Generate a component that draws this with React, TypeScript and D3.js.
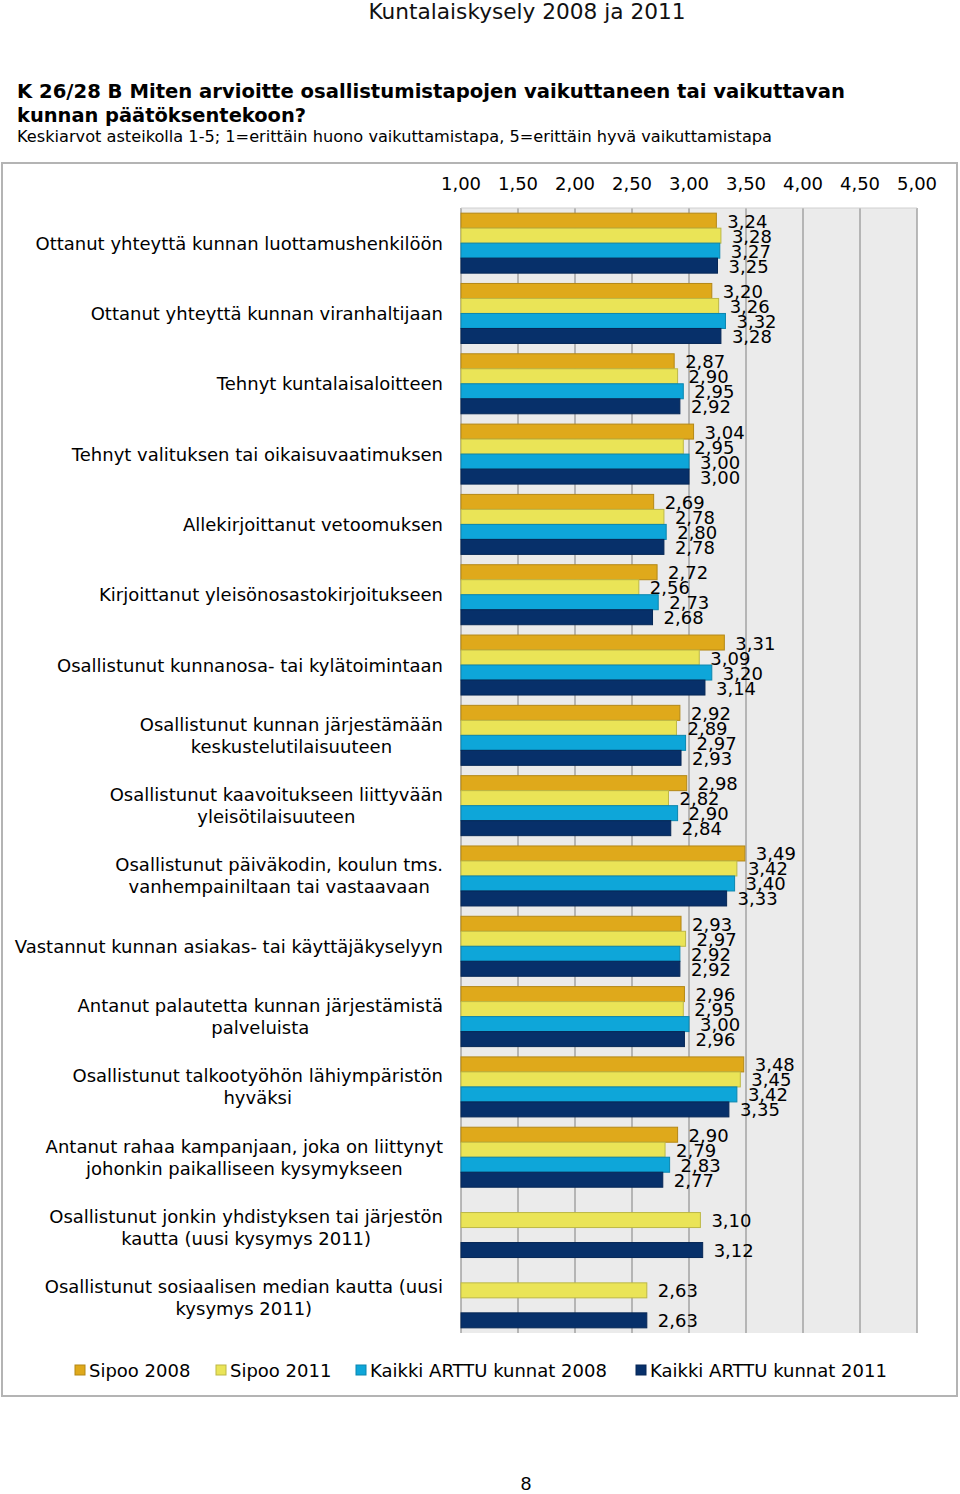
import React, { useEffect, useRef } from "react";
import * as d3 from "d3";

const categories: string[] = [
  "Ottanut yhteyttä kunnan luottamushenkilöön",
  "Ottanut yhteyttä kunnan viranhaltijaan",
  "Tehnyt kuntalaisaloitteen",
  "Tehnyt valituksen tai oikaisuvaatimuksen",
  "Allekirjoittanut vetoomuksen",
  "Kirjoittanut yleisönosastokirjoitukseen",
  "Osallistunut kunnanosa- tai kylätoimintaan",
  "Osallistunut kunnan järjestämään\nkeskustelutilaisuuteen",
  "Osallistunut kaavoitukseen liittyvään\nyleisötilaisuuteen",
  "Osallistunut päiväkodin, koulun tms.\nvanhempainiltaan tai vastaavaan",
  "Vastannut kunnan asiakas- tai käyttäjäkyselyyn",
  "Antanut palautetta kunnan järjestämistä\npalveluista",
  "Osallistunut talkootyöhön lähiympäristön\nhyväksi",
  "Antanut rahaa kampanjaan, joka on liittynyt\njohonkin paikalliseen kysymykseen",
  "Osallistunut jonkin yhdistyksen tai järjestön\nkautta (uusi kysymys 2011)",
  "Osallistunut sosiaalisen median kautta (uusi\nkysymys 2011)",
];

const seriesNames: string[] = [
  "Sipoo 2008",
  "Sipoo 2011",
  "Kaikki ARTTU kunnat 2008",
  "Kaikki ARTTU kunnat 2011",
];

const sipoo2008: (number | null)[] = [3.24, 3.2, 2.87, 3.04, 2.69, 2.72, 3.31, 2.92, 2.98, 3.49, 2.93, 2.96, 3.48, 2.9, null, null];
const sipoo2011: (number | null)[] = [3.28, 3.26, 2.9, 2.95, 2.78, 2.56, 3.09, 2.89, 2.82, 3.42, 2.97, 2.95, 3.45, 2.79, 3.1, 2.63];
const arttu2008: (number | null)[] = [3.27, 3.32, 2.95, 3.0, 2.8, 2.73, 3.2, 2.97, 2.9, 3.4, 2.92, 3.0, 3.42, 2.83, null, null];
const arttu2011: (number | null)[] = [3.25, 3.28, 2.92, 3.0, 2.78, 2.68, 3.14, 2.93, 2.84, 3.33, 2.92, 2.96, 3.35, 2.77, 3.12, 2.63];

const ticks: number[] = [1, 1.5, 2, 2.5, 3, 3.5, 4, 4.5, 5];
const colors: string[] = ["#DFA91B", "#EAE457", "#0EA6D9", "#07306A"];

const fmt = (v: number) => v.toFixed(2).replace(".", ",");

export default function App() {
  const ref = useRef<SVGSVGElement | null>(null);

  useEffect(() => {
    const svg = d3.select(ref.current);
    svg.selectAll("*").remove();
    const font = "DejaVu Sans, Verdana, sans-serif";
    const values = [sipoo2008, sipoo2011, arttu2008, arttu2011];

    // Page header
    svg.append("text").attr("x", 527).attr("y", 19).attr("text-anchor", "middle")
      .attr("font-family", font).attr("font-size", 21).attr("fill", "#111")
      .attr("textLength", 317).attr("lengthAdjust", "spacingAndGlyphs")
      .text("Kuntalaiskysely 2008 ja 2011");

    svg.append("text").attr("x", 17).attr("y", 98).attr("font-family", font)
      .attr("font-size", 20).attr("font-weight", "bold").attr("fill", "#000")
      .attr("textLength", 828).attr("lengthAdjust", "spacingAndGlyphs")
      .text("K 26/28 B Miten arvioitte osallistumistapojen vaikuttaneen tai vaikuttavan");
    svg.append("text").attr("x", 17).attr("y", 122).attr("font-family", font)
      .attr("font-size", 20).attr("font-weight", "bold").attr("fill", "#000")
      .attr("textLength", 289).attr("lengthAdjust", "spacingAndGlyphs")
      .text("kunnan päätöksentekoon?");
    svg.append("text").attr("x", 17).attr("y", 142).attr("font-family", font)
      .attr("font-size", 16).attr("fill", "#000")
      .attr("textLength", 755).attr("lengthAdjust", "spacingAndGlyphs")
      .text("Keskiarvot asteikolla 1-5; 1=erittäin huono vaikuttamistapa, 5=erittäin hyvä vaikuttamistapa");

    // Chart frame
    svg.append("rect").attr("x", 2).attr("y", 163).attr("width", 955).attr("height", 1233)
      .attr("fill", "#fff").attr("stroke", "#b4b4b4").attr("stroke-width", 2);

    const x = d3.scaleLinear().domain([1, 5]).range([461, 917]);
    const y = d3.scaleBand<number>().domain(d3.range(categories.length))
      .range([208, 1333]).paddingInner(0.1467).paddingOuter(0.0733);
    const ys = d3.scaleBand<number>().domain(d3.range(4)).range([0, y.bandwidth()]);

    // Plot area
    svg.append("rect").attr("x", x(1)).attr("y", 208).attr("width", x(5) - x(1)).attr("height", 1125)
      .attr("fill", "#EBEBEB");
    svg.append("g").selectAll("line").data(ticks).join("line")
      .attr("x1", (d) => x(d)).attr("x2", (d) => x(d)).attr("y1", 208).attr("y2", 1333)
      .attr("stroke", "#A3A3A3").attr("stroke-width", 1.5);
    svg.append("line").attr("x1", x(1)).attr("x2", x(5)).attr("y1", 208).attr("y2", 208)
      .attr("stroke", "#D0D0D0").attr("stroke-width", 1);

    // Tick labels
    svg.append("g").selectAll("text").data(ticks).join("text")
      .attr("x", (d) => x(d)).attr("y", 190).attr("text-anchor", "middle")
      .attr("font-family", font).attr("font-size", 18).attr("fill", "#000")
      .text((d) => fmt(d));

    // Bars
    values.forEach((arr, si) => {
      const g = svg.append("g");
      const data = arr.map((v, i) => ({ v, i })).filter((d) => d.v !== null) as { v: number; i: number }[];
      g.selectAll("rect").data(data).join("rect")
        .attr("x", x(1)).attr("y", (d) => (y(d.i) as number) + (ys(si) as number))
        .attr("width", (d) => x(d.v) - x(1)).attr("height", ys.bandwidth())
        .attr("fill", colors[si])
        .attr("stroke", d3.color(colors[si])!.darker(0.6).toString()).attr("stroke-width", 1);
    });
    values.forEach((arr, si) => {
      const g = svg.append("g");
      const data = arr.map((v, i) => ({ v, i })).filter((d) => d.v !== null) as { v: number; i: number }[];
      g.selectAll("text").data(data).join("text")
        .attr("x", (d) => x(d.v) + 11)
        .attr("y", (d) => (y(d.i) as number) + (ys(si) as number) + ys.bandwidth() / 2 + 7)
        .attr("font-family", font).attr("font-size", 18).attr("fill", "#000")
        .text((d) => fmt(d.v));
    });

    // Category labels
    categories.forEach((c, i) => {
      const lines = c.split("\n");
      const cy = (y(i) as number) + y.bandwidth() / 2;
      const lh = 22;
      const g = svg.append("g");
      const texts = lines.map((ln, li) =>
        g.append("text").attr("y", cy + (li - (lines.length - 1) / 2) * lh + 6.5)
          .attr("font-family", font).attr("font-size", 18).attr("fill", "#000")
          .attr("text-anchor", "middle").text(ln)
      );
      const widths = texts.map((t) => (t.node() as SVGTextElement).getComputedTextLength());
      const maxW = Math.max(...widths);
      const center = 443 - maxW / 2;
      texts.forEach((t) => t.attr("x", center));
    });

    // Legend
    const legendX = [75, 216, 356, 636];
    seriesNames.forEach((s, si) => {
      svg.append("rect").attr("x", legendX[si]).attr("y", 1365).attr("width", 10).attr("height", 10)
        .attr("fill", colors[si]).attr("stroke", d3.color(colors[si])!.darker(0.6).toString());
      svg.append("text").attr("x", legendX[si] + 14).attr("y", 1376.5)
        .attr("font-family", font).attr("font-size", 18).attr("fill", "#000").text(s);
    });

    // Page number
    svg.append("text").attr("x", 526).attr("y", 1490).attr("text-anchor", "middle")
      .attr("font-family", "Liberation Sans, Arial, sans-serif").attr("font-size", 19).attr("fill", "#000").text("8");
  }, []);

  return (
    <svg ref={ref} width={960} height={1494}
      style={{ position: "absolute", left: 0, top: 0, background: "#fff" }} />
  );
}
